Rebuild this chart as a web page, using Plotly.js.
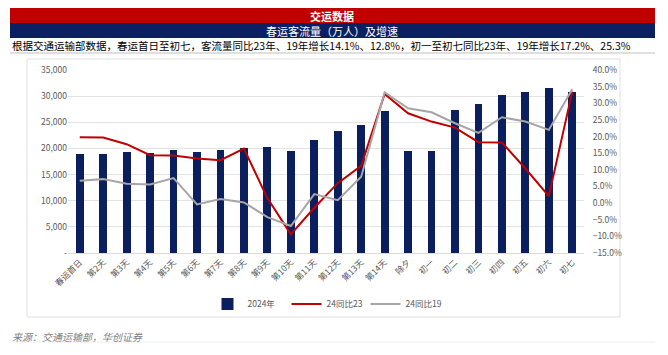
<!DOCTYPE html>
<html>
<head>
<meta charset="utf-8">
<script src="https://cdn.plot.ly/plotly-3.0.1.min.js"></script>
<style>html,body{margin:0;padding:0;background:#fff;}#chart{width:668px;height:355px;}</style>
</head>
<body>
<div id="chart"></div>
<script>
const categories = ["春运首日","第2天","第3天","第4天","第5天","第6天","第7天","第8天","第9天","第10天","第11天","第12天","第13天","第14天","除夕","初一","初二","初三","初四","初五","初六","初七"];
const flow2024 = [18900,19000,19300,19150,19650,19300,19650,20000,20300,19450,21550,23300,24550,27100,19500,19500,27350,28500,30150,30750,31550,30800];
const yoy23 = [19.8,19.7,17.7,14.4,14.3,13.4,12.9,16.4,1.5,-9.4,-1.4,6.0,11.2,32.8,27.0,24.5,22.7,18.3,18.2,10.4,2.1,33.5];
const yoy19 = [6.7,7.2,5.8,5.6,7.5,-0.4,1.2,0.2,-4.2,-6.9,2.7,0.9,7.9,33.3,28.5,27.3,24.0,21.1,25.8,24.5,22.0,34.2];
const leftTicks = [0,5000,10000,15000,20000,25000,30000,35000];
const leftTickText = ["-","5,000","10,000","15,000","20,000","25,000","30,000","35,000"];
const headerTitle = "交运数据";
const headerSub = "春运客流量（万人）及增速";
const headerNote = "根据交通运输部数据，春运首日至初七，客流量同比23年、19年增长14.1%、12.8%，初一至初七同比23年、19年增长17.2%、25.3%";
const sourceText = "来源：交通运输部，华创证券";

// pixel -> paper helpers (plot area: x 68..584, y 70..253)
const L = 68, R = 584, T = 70, B = 253;
const px = v => (v - L) / (R - L);
const py = v => (B - v) / (B - T);

const font = "'Noto Sans CJK SC', 'Noto Sans', sans-serif";

const traces = [
  {type:'bar', name:'2024年', x:categories, y:flow2024, marker:{color:'#0B1F5E'}, width:0.33, yaxis:'y'},
  {type:'scatter', mode:'lines', name:'24同比23', x:categories, y:yoy23, line:{color:'#C00000', width:2}, yaxis:'y2'},
  {type:'scatter', mode:'lines', name:'24同比19', x:categories, y:yoy19, line:{color:'#A6A6A6', width:2}, yaxis:'y2'}
];

const layout = {
  width:668, height:355,
  margin:{l:L, r:668-R, t:T, b:355-B, pad:0},
  paper_bgcolor:'#fff', plot_bgcolor:'#fff',
  font:{family:font, size:9, color:'#595959'},
  showlegend:true,
  legend:{orientation:'h', x:px(326), xanchor:'center', y:py(304), yanchor:'middle',
          font:{size:8.5, color:'#595959'}, itemwidth:30, entrywidth:34, entrywidthmode:'pixels',
          tracegroupgap:0, bgcolor:'rgba(0,0,0,0)'},
  bargap:0,
  xaxis:{type:'category', tickangle:-45, tickfont:{size:8.5, color:'#595959'},
         showline:true, linecolor:'#D9D9D9', linewidth:1, ticks:'', showgrid:false, fixedrange:true},
  yaxis:{range:[0,35000], tickvals:leftTicks, ticktext:leftTickText, showgrid:true, gridcolor:'#E3E3E3',
         gridwidth:1, zeroline:false, showline:false, tickfont:{size:8.5, color:'#595959'}, ticks:'',
         ticklen:6, tickcolor:'rgba(0,0,0,0)'},
  yaxis2:{range:[-15,40], dtick:5, tick0:-15, tickformat:'.1f', ticksuffix:'%', overlaying:'y', side:'right',
          showgrid:false, zeroline:false, showline:false, tickfont:{size:8.5, color:'#595959'}, ticks:'outside',
          ticklen:6, tickcolor:'rgba(0,0,0,0)'},
  shapes:[
    {type:'rect', xref:'paper', yref:'paper', x0:px(10), x1:px(655), y0:py(23), y1:py(8), fillcolor:'#C00000', line:{width:0}, layer:'below'},
    {type:'rect', xref:'paper', yref:'paper', x0:px(10), x1:px(655), y0:py(38), y1:py(23), fillcolor:'#0B2062', line:{width:0}, layer:'below'},
    {type:'line', xref:'paper', yref:'paper', x0:px(10), x1:px(655), y0:py(53), y1:py(53), line:{color:'#BFBFBF', width:1}},
    {type:'rect', xref:'paper', yref:'paper', x0:px(27), x1:px(620), y0:py(317), y1:py(59), fillcolor:'rgba(0,0,0,0)', line:{color:'#E0E0E0', width:1}, layer:'below'},
    {type:'line', xref:'paper', yref:'paper', x0:px(10), x1:px(655), y0:py(342), y1:py(342), line:{color:'#E8EEF6', width:1}}
  ],
  annotations:[
    {xref:'paper', yref:'paper', x:px(332), y:py(15.5), text:'<b>'+headerTitle+'</b>', showarrow:false, xanchor:'center', yanchor:'middle', font:{family:font, size:11, color:'#FFFFFF'}},
    {xref:'paper', yref:'paper', x:px(332), y:py(30.5), text:headerSub, showarrow:false, xanchor:'center', yanchor:'middle', font:{family:font, size:11, color:'#FFFFFF'}},
    {xref:'paper', yref:'paper', x:px(10), y:py(45.5), text:headerNote, showarrow:false, xanchor:'left', yanchor:'middle', font:{family:font, size:10.5, color:'#000000'}},
    {xref:'paper', yref:'paper', x:px(10), y:py(336), text:'<i>'+sourceText+'</i>', showarrow:false, xanchor:'left', yanchor:'middle', font:{family:font, size:10, color:'#7F7F7F'}}
  ]
};

Plotly.newPlot('chart', traces, layout, {displayModeBar:false, staticPlot:true});
</script>
</body>
</html>
